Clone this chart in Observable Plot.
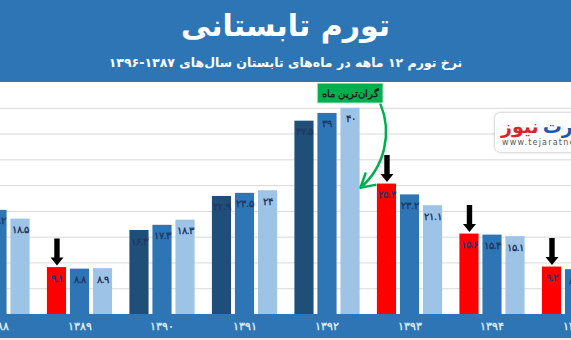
<!DOCTYPE html>
<html><head><meta charset="utf-8">
<script src="https://cdn.jsdelivr.net/npm/d3@7"></script>
<script src="https://cdn.jsdelivr.net/npm/@observablehq/plot@0.6"></script>
<style>
html,body{margin:0;padding:0;width:571px;height:340px;overflow:hidden;background:#fff;font-family:"DejaVu Sans",sans-serif;}
#head{height:82px;background:#2e75b6;color:#fff;text-align:center;direction:rtl;position:relative}
#title{position:absolute;left:0;right:0;top:6px;font-size:30px;font-weight:bold;line-height:40px}
#sub{position:absolute;left:0;right:0;top:53px;font-size:12.5px;font-weight:bold;line-height:20px}
#chart{position:relative;height:258px}
#logo{position:absolute;left:495px;top:113px;width:115px;height:39px;background:#fff;border-radius:5px;box-shadow:0 0 3px rgba(0,0,0,0.35);overflow:hidden}
#logo .fa{position:absolute;left:6px;top:1px;display:flex;flex-direction:row;font-size:19px;font-weight:bold;line-height:24px;white-space:nowrap}
#logo .fa span{direction:rtl;unicode-bidi:isolate}
#logo .en{position:absolute;left:7px;top:25px;font-size:8px;color:#555;letter-spacing:1.2px;white-space:nowrap}
</style></head>
<body>
<div id="head"><div id="title">تورم تابستانی</div><div id="sub">نرخ تورم ۱۲ ماهه در ماه‌های تابستان سال‌های ۱۳۸۷-۱۳۹۶</div></div>
<div id="chart"></div>
<div id="logo"><div class="fa"><span style="color:#d9252a">نیوز</span><span style="width:4px"></span><span style="color:#1d5aa6">تجارت</span></div><div class="en">www.tejaratnews.com</div></div>
<script>
// --- data ---
const years = [1388, 1389, 1390, 1391, 1392, 1393, 1394, 1395];
const tir      = [21.5, 9.1, 16.3, 22.9, 37.5, 25.3, 15.6, 9.2];
const mordad   = [20.2, 8.8, 17.3, 23.5, 39.0, 23.2, 15.4, 8.7];
const shahrivar= [18.5, 8.9, 18.3, 24.0, 40.0, 21.1, 15.1, 8.6];
const highlightedYears = [1389, 1393, 1394, 1395]; // first (تیر) bar in red, with arrow
const gridValues = [5, 10, 15, 20, 25, 30, 35, 40];
const noteText = "گران‌ترین ماه";
const noteYear = 1392;

const faDigits = "۰۱۲۳۴۵۶۷۸۹";
const fa = v => String(v).replace(/\d/g, c => faDigits[c]);

const series = [tir, mordad, shahrivar];
const offsets = [-0.279, 0, 0.279];
const halfW = 0.116;
const rows = [];
years.forEach((y, i) => series.forEach((s, m) => {
  const red = m === 0 && highlightedYears.includes(y);
  rows.push({year: y, m, value: s[i], cat: red ? "red" : ["m0","m1","m2"][m]});
}));
const cx = d => d.year + offsets[d.m];

const blockArrow = {
  draw(ctx, l) {
    const h = 8, hw = 6.5, sw = 2.7;
    ctx.moveTo(-sw, 0);
    ctx.lineTo(-sw, -(l - h));
    ctx.lineTo(-hw, -(l - h));
    ctx.lineTo(0, -l);
    ctx.lineTo(hw, -(l - h));
    ctx.lineTo(sw, -(l - h));
    ctx.lineTo(sw, 0);
    ctx.closePath();
  }
};

const note = [{year: noteYear, text: noteText}];

const chart = Plot.plot({
  width: 571, height: 258,
  marginTop: 0, marginBottom: 26, marginLeft: 0, marginRight: 0,
  x: {type: "linear", domain: [1388.0364, 1394.9576], label: null, axis: null},
  y: {domain: [0, 45], axis: null},
  color: {domain: ["m0","m1","m2","red"], range: ["#1f4e79","#2e75b6","#9dc3e6","#ff0000"]},
  style: {background: "linear-gradient(#fff 0 232px, #2e75b6 232px 256px, #e6eef7 256px)", overflow: "hidden"},
  marks: [
    Plot.ruleY(gridValues, {stroke: "#d9d9d9", strokeWidth: 1}),
    Plot.rectY(rows, {x1: d => cx(d) - halfW, x2: d => cx(d) + halfW, y: "value", fill: "cat"}),
    Plot.text(rows, {x: cx, y: "value", text: d => fa(d.value), dy: 11, fill: "#1f3864", fontWeight: "bold", fontSize: 9.5}),
    Plot.vector(rows.filter(d => d.cat === "red"), {x: cx, y: d => d.value + 0.4, length: 27, rotate: 180, anchor: "end", shape: blockArrow, fill: "black", stroke: "none"}),
    Plot.arrow(note, {x1: d => d.year + 0.64, y1: 40.9, x2: d => d.year + 0.40, y2: 24.6, bend: 36, stroke: "#00b050", strokeWidth: 2.5, headLength: 9}),
    Plot.rect(note, {x1: d => d.year - 0.12, x2: d => d.year + 0.68, y1: 40.9, y2: 44.8, fill: "#00b050", stroke: "#e8f5ec", strokeWidth: 1}),
    Plot.text(note, {x: d => d.year + 0.28, y: 42.85, text: "text", fill: "#1a1a1a", fontSize: 9.5, fontWeight: "bold"}),
    Plot.axisX(years, {tickFormat: fa, tickSize: 0, tickPadding: 8, fill: "#dce8f5", fontWeight: "bold", fontSize: 11, label: null})
  ]
});
document.getElementById("chart").appendChild(chart);
</script>
</body></html>
